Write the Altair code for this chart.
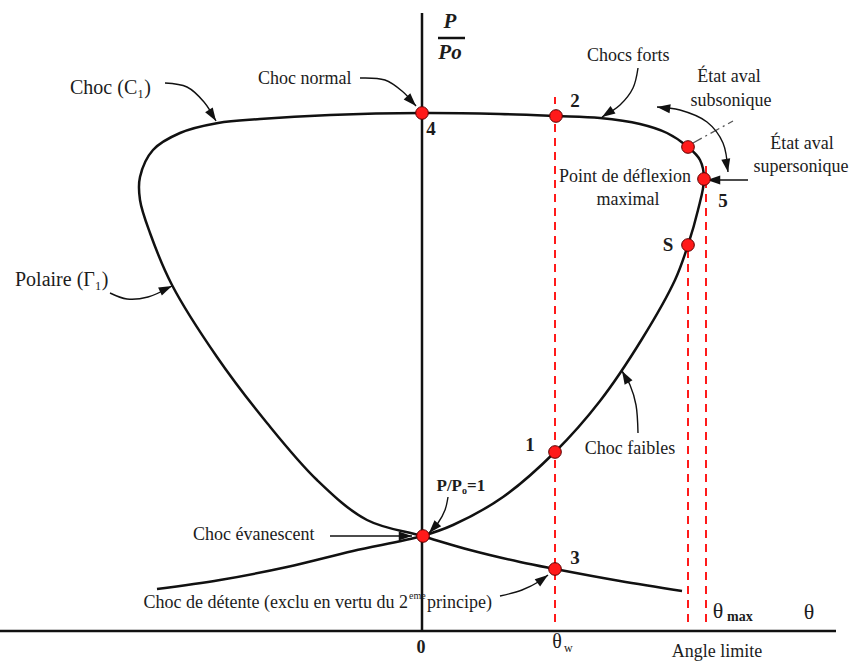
import math
import altair as alt
import pandas as pd

# Frame of the diagram: deflection angle theta along x, pressure ratio P/Po along y
# (schematic units, origin where the two axes cross).
X_DOMAIN = [-422, 429]
Y_DOMAIN = [-31, 631]

# Shock polar (Gamma 1) traced in one pass: expansion branch, weak shocks,
# strong shocks, normal shock, left lobe, then back through P/Po = 1 to the lower right.
polar_theta = [-265, -202, -135, -69, 0, 31, 81, 133, 178, 220, 253, 266, 276,
               282, 278, 266, 245, 218, 178, 134, 78, 0, -92, -162, -204, -242, -269,
               -282, -282, -272, -250, -205, -155, -105, -55, 0, 48, 98, 133, 198, 260]
polar_p = [42, 51, 64, 80, 95, 106, 134, 179, 230, 292, 351, 386, 421,
           452, 471, 484, 498, 507, 513, 515, 517, 518, 516, 512, 508, 498, 481,
           454, 431, 398, 346, 274, 208, 151, 111, 95, 81, 69, 62, 50, 40]

# Marked states on the polar
state_theta = [0, 134, 266, 282, 266, 133, 1, 133]
state_p = [518, 515, 484, 452, 386, 179, 95, 62]

# State numbers
state_names = ["4", "2", "5", "S", "1", "3"]
state_name_theta = [9, 153, 301, 246, 108, 153]
state_name_p = [502, 530, 430, 386, 186, 73]

# Vertical guides: theta_w, sonic state S, theta_max
guide_theta = [133, 266, 284]
guide_p_low = [9, 9, 9]
guide_p_high = [534, 386, 468]

# Axes and the fraction bar of the y title
seg_x = [-422, 0, 16]
seg_x2 = [414, 0, 43]
seg_y = [0, 0, 593]
seg_y2 = [0, 618, 593]

# Annotation arrows (shaft points, tip last)
arrow_paths = {
    "choc_c1": ([-257, -235, -218, -206], [548, 544, 529, 510]),
    "choc_normal": ([-62, -37, -20, -6], [553, 551, 540, 525]),
    "chocs_forts": ([216, 211, 198, 180], [563, 543, 526, 514]),
    "aval": ([235, 258, 285, 301, 306], [524, 521, 509, 488, 459]),
    "supersonique": ([326, 285], [451, 451]),
    "polaire": ([-312, -295, -274, -250], [338, 332, 334, 345]),
    "choc_faibles": ([216, 214, 208, 200], [198, 226, 246, 260]),
    "evanescent": ([-92, -10], [95, 95]),
    "p_unity": ([26, 23, 16, 7], [134, 121, 108, 98]),
    "detente": ([78, 100, 118, 126], [35, 41, 50, 56]),
}
double_headed = ["aval"]

# Dash-dot boundary between subsonic and supersonic downstream states
boundary_theta = [271, 311]
boundary_p = [488, 510]

# Text labels
left_texts = ["Choc (C₁)", "Polaire (Γ₁)", "Choc normal", "Chocs forts", "Choc évanescent",
              "eme", "principe)", "w"]
left_x = [-352, -407, -164, 165, -229, -13, 5, 142]
left_y = [543, 351, 552, 575, 96, 35, 28, -17]
left_size = [20, 20, 18, 18, 18, 10, 18, 12]

center_texts = ["État aval", "subsonique", "État aval", "supersonique", "Point de déflexion",
                "maximal", "Choc faibles", "Angle limite", "θ", "θ", "θ"]
center_x = [307, 309, 380, 379, 203, 206, 208, 295, 135, 296, 387]
center_y = [554, 530, 487, 464, 454, 431, 182, -21, -11, 20, 19]
center_size = [18, 18, 18, 18, 18, 18, 18, 18, 20, 22, 22]

right_texts = ["Choc de détente (exclu en vertu du 2"]
right_x = [-14]
right_y = [28]

bold_right_texts = ["P/P"]
bold_right_x = [40]
bold_right_y = [145]

bold_left_texts = ["o", "=1", "max"]
bold_left_x = [40, 45, 305]
bold_left_y = [140, 145, 14]
bold_left_size = [10, 17, 14]

axis_zero_text = ["0"]
axis_zero_x = [-1]
axis_zero_y = [-17]

title_texts = ["P", "Po"]
title_x = [28, 28]
title_y = [609, 578]

FONT = "Liberation Serif"
INK = "#1c1c1c"
RED = "#ff1a1a"

xs = alt.Scale(domain=X_DOMAIN, nice=False, zero=False)
ys = alt.Scale(domain=Y_DOMAIN, nice=False, zero=False)


def X(field):
    return alt.X(field, type="quantitative", scale=xs, axis=None)


def Y(field):
    return alt.Y(field, type="quantitative", scale=ys, axis=None)


polar_df = pd.DataFrame({"theta": polar_theta, "p": polar_p, "i": range(len(polar_p))})
states_df = pd.DataFrame({"theta": state_theta, "p": state_p})
names_df = pd.DataFrame({"t": state_names, "theta": state_name_theta, "p": state_name_p})
guides_df = pd.DataFrame({"theta": guide_theta, "lo": guide_p_low, "hi": guide_p_high})
segs_df = pd.DataFrame({"x": seg_x, "x2": seg_x2, "y": seg_y, "y2": seg_y2})
boundary_df = pd.DataFrame({"x": [boundary_theta[0]], "x2": [boundary_theta[1]],
                            "y": [boundary_p[0]], "y2": [boundary_p[1]]})

shaft_rows = []
head_rows = []


def heading(x_from, y_from, x_to, y_to):
    return math.degrees(math.atan2(x_to - x_from, y_to - y_from)) % 360


for name, (ax, ay) in arrow_paths.items():
    for k, (a, b) in enumerate(zip(ax, ay)):
        shaft_rows.append({"arrow": name, "i": k, "x": a, "y": b})
    head_rows.append({"x": ax[-1], "y": ay[-1], "angle": heading(ax[-2], ay[-2], ax[-1], ay[-1])})
    if name in double_headed:
        head_rows.append({"x": ax[0], "y": ay[0], "angle": heading(ax[1], ay[1], ax[0], ay[0])})

shafts_df = pd.DataFrame(shaft_rows)
heads_df = pd.DataFrame(head_rows)

# arrowhead with its tip at the anchor point, body trailing behind
ARROW_SHAPE = "M0,0L-0.34,1L0.34,1Z"

guides = alt.Chart(guides_df).mark_rule(color=RED, strokeWidth=2, strokeDash=[8, 6]).encode(
    x=X("theta"), y=Y("lo"), y2="hi")

axes = alt.Chart(segs_df).mark_rule(color="#111111", strokeWidth=2.5).encode(
    x=X("x"), x2="x2", y=Y("y"), y2="y2")

boundary = alt.Chart(boundary_df).mark_rule(color="#555555", strokeWidth=1.3,
                                            strokeDash=[10, 4, 2, 4]).encode(
    x=X("x"), x2="x2", y=Y("y"), y2="y2")

polar = alt.Chart(polar_df).mark_line(color="#111111", strokeWidth=2.5,
                                      interpolate="catmull-rom").encode(
    x=X("theta"), y=Y("p"), order="i:Q")

shafts = alt.Chart(shafts_df).mark_line(color="#111111", strokeWidth=1.4,
                                        interpolate="catmull-rom").encode(
    x=X("x"), y=Y("y"), detail="arrow:N", order="i:Q")

heads = alt.Chart(heads_df).mark_point(shape=ARROW_SHAPE, filled=True, color="#111111",
                                       size=700, opacity=1).encode(
    x=X("x"), y=Y("y"), angle=alt.Angle("angle:Q", scale=None))

dots = alt.Chart(states_df).mark_circle(size=160, color=RED, stroke="#5a0000",
                                        strokeWidth=1, opacity=1).encode(
    x=X("theta"), y=Y("p"))

names = alt.Chart(names_df).mark_text(font=FONT, fontWeight="bold", fontSize=19, color=INK,
                                      align="center", baseline="middle").encode(
    x=X("theta"), y=Y("p"), text="t:N")

left_lab = alt.Chart(pd.DataFrame({"t": left_texts, "x": left_x, "y": left_y, "s": left_size})).mark_text(
    font=FONT, color=INK, align="left", baseline="middle").encode(
    x=X("x"), y=Y("y"), text="t:N", size=alt.Size("s:Q", scale=None))

center_lab = alt.Chart(pd.DataFrame({"t": center_texts, "x": center_x, "y": center_y, "s": center_size})).mark_text(
    font=FONT, color=INK, align="center", baseline="middle").encode(
    x=X("x"), y=Y("y"), text="t:N", size=alt.Size("s:Q", scale=None))

right_lab = alt.Chart(pd.DataFrame({"t": right_texts, "x": right_x, "y": right_y})).mark_text(
    font=FONT, color=INK, align="right", baseline="middle", fontSize=18).encode(
    x=X("x"), y=Y("y"), text="t:N")

bold_right_lab = alt.Chart(pd.DataFrame({"t": bold_right_texts, "x": bold_right_x,
                                         "y": bold_right_y})).mark_text(
    font=FONT, fontWeight="bold", fontSize=17, color=INK, align="right", baseline="middle").encode(
    x=X("x"), y=Y("y"), text="t:N")

bold_lab = alt.Chart(pd.DataFrame({"t": bold_left_texts, "x": bold_left_x, "y": bold_left_y,
                                   "s": bold_left_size})).mark_text(
    font=FONT, fontWeight="bold", color=INK, align="left", baseline="middle").encode(
    x=X("x"), y=Y("y"), text="t:N", size=alt.Size("s:Q", scale=None))

zero_lab = alt.Chart(pd.DataFrame({"t": axis_zero_text, "x": axis_zero_x, "y": axis_zero_y})).mark_text(
    font=FONT, fontWeight="bold", fontSize=18, color=INK, align="center", baseline="middle").encode(
    x=X("x"), y=Y("y"), text="t:N")

title_lab = alt.Chart(pd.DataFrame({"t": title_texts, "x": title_x, "y": title_y})).mark_text(
    font=FONT, fontWeight="bold", fontStyle="italic", fontSize=21, color=INK,
    align="center", baseline="middle").encode(
    x=X("x"), y=Y("y"), text="t:N")

chart = alt.layer(
    guides, axes, boundary, polar, shafts, heads, dots, names,
    left_lab, center_lab, right_lab, bold_right_lab, bold_lab, zero_lab, title_lab,
).properties(
    width=851, height=662, padding=0, autosize="none", background="white",
).configure_view(stroke=None)

chart.save("out.html", embed_options={"renderer": "svg", "actions": False})
